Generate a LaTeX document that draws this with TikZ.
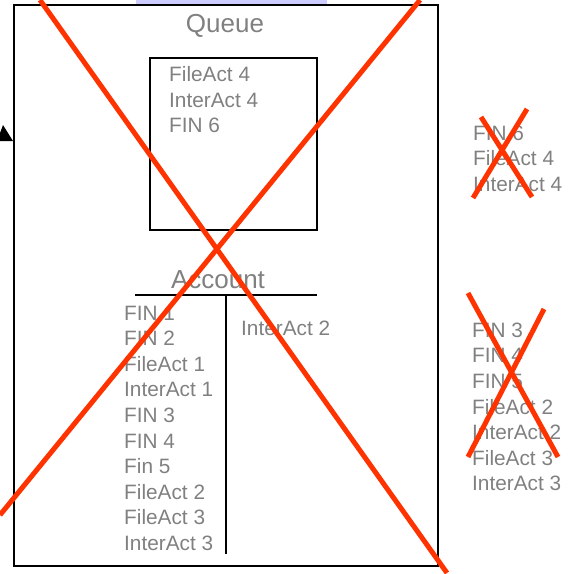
\documentclass[tikz,border=0pt]{standalone}
\usepackage{fontspec}
\setmainfont{Liberation Sans}
\usepackage{xcolor}
\usepackage{tikz}
\usetikzlibrary{positioning}
\definecolor{textgray}{RGB}{128,128,128}
\definecolor{crossred}{RGB}{255,51,0}
\definecolor{barblue}{RGB}{204,204,255}
\tikzstyle{title} = [inner sep=0pt, text=textgray, font=\fontsize{26}{30}\selectfont]
\tikzstyle{entries} = [inner sep=0pt, align=left, text=textgray, font=\fontsize{20.8}{25.6}\selectfont]
\tikzstyle{box} = [rectangle, draw=black, inner sep=0pt]
\tikzstyle{cross} = [draw=crossred, line width=5pt]

\begin{document}
\begin{tikzpicture}[x=1pt, y=-1pt]
\useasboundingbox (0,0) rectangle (575,573);

% Frame
\fill[barblue] (136,0) rectangle (327,3.5);
\node (main) [box, line width=2pt, minimum width=424pt, minimum height=561pt] at (226,285.5) {};
\fill (-3,141) -- (3,125) -- (13,141) -- cycle;

% Queue
\node (queue) [title] at (225,26) {Queue};
\node (queuebox) [box, line width=1.5pt, minimum width=167pt, minimum height=172pt] at (233.5,144) {};
\node (queuelist) [entries, anchor=north west] at (169,66.5) {FileAct 4\\InterAct 4\\FIN 6};

% Account
\node (account) [title] at (218,280) {Account};
\coordinate (tleft) at (135,295);
\coordinate (tright) at (317,295);
\coordinate (ttop) at (226,295);
\coordinate (tbottom) at (226,554);
\draw [line width=2pt] (tleft) -- (tright);
\draw [line width=2pt] (ttop) -- (tbottom);
\node (debit) [entries, anchor=north west] at (124,305.5) {FIN 1\\FIN 2\\FileAct 1\\InterAct 1\\FIN 3\\FIN 4\\Fin 5\\FileAct 2\\FileAct 3\\InterAct 3};
\node (credit) [entries, anchor=west] at (241,328) {InterAct 2};

% Outside lists
\node (sent) [entries, anchor=north west] at (473,125.5) {FIN 6\\FileAct 4\\InterAct 4};
\node (pending) [entries, anchor=north west] at (472,322.5) {FIN 3\\FIN 4\\FIN 5\\FileAct 2\\InterAct 2\\FileAct 3\\InterAct 3};

% Crosses
\draw [cross] (40,0) -- (447,573);
\draw [cross] (420,0) -- (0,515);
\draw [cross] (473,198) -- (527,109);
\draw [cross] (481,117) -- (532,197);
\draw [cross] (468,293) -- (558,457);
\draw [cross] (544,309) -- (468,457);

\end{tikzpicture}
\end{document}
